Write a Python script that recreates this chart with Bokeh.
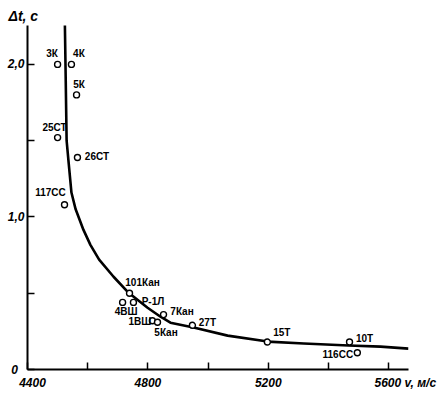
from bokeh.plotting import figure
from bokeh.models import Range1d, FixedTicker, Title, ColumnDataSource
from bokeh.core.properties import value
from bokeh.embed import file_html
from bokeh.resources import INLINE

# measured points
pt_names = ["3К", "4К", "5К", "25СТ", "26СТ", "117СС", "101Кан", "Р-1Л", "4ВШ",
            "1ВШ", "5Кан", "7Кан", "27Т", "15Т", "10Т", "116СС"]
pt_v = [4500, 4546, 4563, 4500, 4566, 4523, 4739, 4752, 4716,
        4815, 4832, 4852, 4948, 5197, 5470, 5496]
pt_dt = [2.00, 2.00, 1.80, 1.52, 1.39, 1.08, 0.50, 0.44, 0.44,
         0.32, 0.31, 0.36, 0.29, 0.18, 0.18, 0.11]

# curve
curve_v = [4524, 4527, 4530, 4537, 4546, 4560, 4586, 4609, 4638, 4686, 4736,
           4799, 4842, 4875, 4952, 5065, 5198, 5318, 5467, 5573, 5666]
curve_dt = [2.29, 1.90, 1.50, 1.35, 1.16, 1.05, 0.915, 0.817, 0.72, 0.608, 0.503,
            0.405, 0.346, 0.307, 0.275, 0.222, 0.183, 0.170, 0.157, 0.150, 0.137]

NB = "\u00a0"
x_ticks = [4400, 4600, 4800, 5000, 5200, 5400, 5600]
x_tick_labels = {4400: NB * 3 + "4400", 4600: "", 4800: "4800", 5000: "", 5200: "5200", 5400: "",
                 5600: NB * 10 + "5600" + NB + "v," + NB + "м/с"}
y_ticks = [0, 0.5, 1.0, 1.5, 2.0]
y_tick_labels = {0: "0" + NB + NB, 0.5: "", 1: "1,0", 1.5: "", 2: "2,0"}
y_title = "Δt, с"

# label offsets (screen px) relative to each point
lab_dx = [-5.5, 7.5, 2.5, -3, 19.5, -14, 13, 19.5, 3.5, -12.5, 8.5, 18.5, 15, 14.5, 15, -19.5]
lab_dy = [-10.5, -10.5, -10, -10, -0.5, -12, -11, -1, 9, 1, 10, -3.5, -2.5, -10, -3.5, 1.5]

FONT = "Liberation Sans"

p = figure(width=440, height=392, x_range=Range1d(4400, 5666), y_range=Range1d(0, 2.255),
           output_backend="svg", toolbar_location=None,
           min_border_left=27, min_border_right=32, min_border_top=25, min_border_bottom=22)
p.outline_line_color = None
p.grid.visible = False

for ax in (p.xaxis[0], p.yaxis[0]):
    ax.axis_line_width = 2
    ax.axis_line_color = "black"
    ax.major_tick_line_width = 1.5
    ax.major_tick_line_color = "black"
    ax.major_tick_in = 7
    ax.major_tick_out = 0
    ax.minor_tick_line_color = None
    ax.major_label_text_font = FONT
    ax.major_label_text_font_style = "bold italic"
    ax.major_label_text_font_size = "12px"
    ax.major_label_text_color = "black"

p.xaxis.ticker = FixedTicker(ticks=x_ticks)
p.xaxis.major_label_overrides = x_tick_labels
p.xaxis.major_label_standoff = 6
p.yaxis.ticker = FixedTicker(ticks=y_ticks)
p.yaxis.major_label_overrides = y_tick_labels
p.yaxis.major_label_standoff = 3

p.line(curve_v, curve_dt, line_color="black", line_width=2.6, line_join="round")

src = ColumnDataSource(dict(x=pt_v, y=pt_dt, t=pt_names, dx=lab_dx, dy=lab_dy))
p.scatter("x", "y", source=src, size=6, marker="circle", fill_color="white",
          line_color="black", line_width=1.4)
p.text("x", "y", text="t", source=src, x_offset="dx", y_offset="dy",
       text_align="center", text_baseline="middle", text_font=value(FONT),
       text_font_style="bold", text_font_size="10px", text_color="black")

p.add_layout(Title(text=y_title, align="left", offset=-19, standoff=3,
                   text_font=FONT, text_font_style="bold italic",
                   text_font_size="14px", text_color="black"), "above")

open("out.html", "w").write(file_html(p, INLINE))
